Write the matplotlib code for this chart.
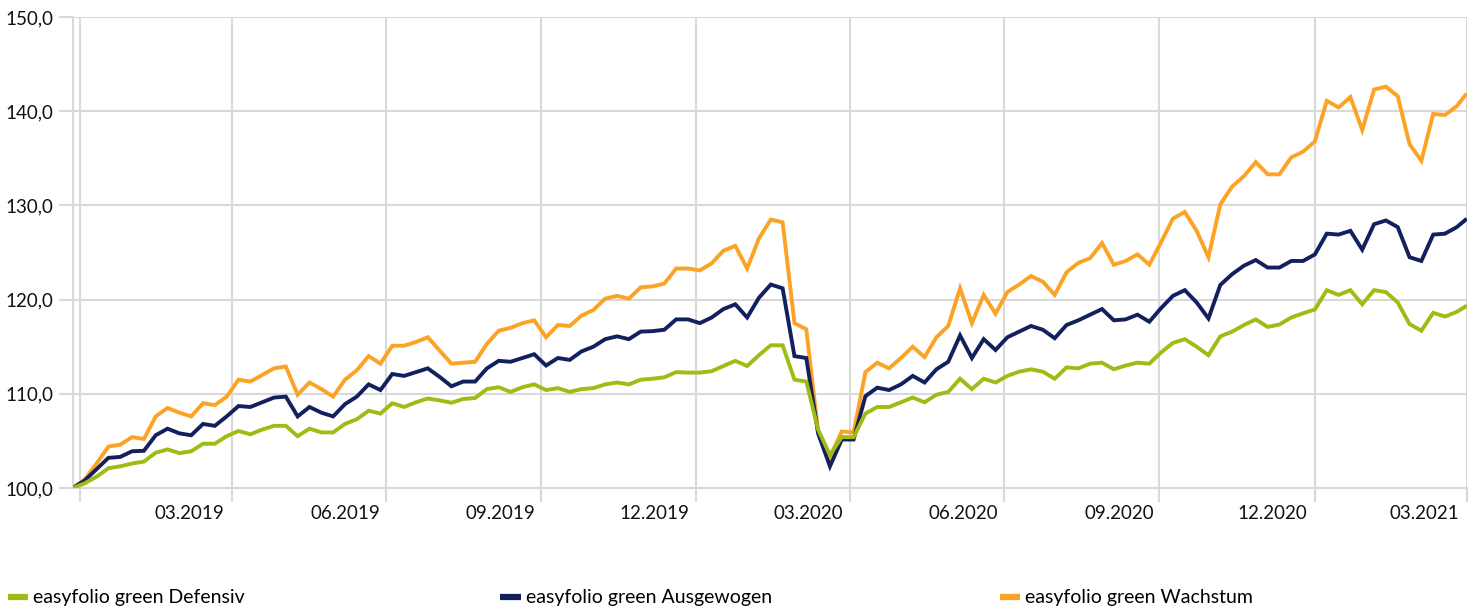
import matplotlib
matplotlib.use("Agg")
import matplotlib.pyplot as plt
import matplotlib.dates as mdates
from matplotlib.ticker import FuncFormatter
import numpy as np

plt.rcParams['font.family'] = ['Lato', 'DejaVu Sans']

# weekly values (Fridays from 28.12.2018) + last value at month end 31.03.2021
dates = list(np.arange(np.datetime64('2018-12-28'), np.datetime64('2021-03-27'), np.timedelta64(7, 'D')))
dates.append(np.datetime64('2021-03-31'))
dates = np.array(dates, dtype='datetime64[D]')

defensiv = [
    100.0, 100.5, 101.2, 102.1, 102.3, 102.6, 102.8, 103.75, 104.1, 103.7,
    103.9, 104.7, 104.7, 105.5, 106.05, 105.7, 106.2, 106.6, 106.6, 105.5,
    106.3, 105.9, 105.9, 106.8, 107.3, 108.2, 107.9, 109.0, 108.6, 109.1,
    109.5, 109.3, 109.05, 109.45, 109.55, 110.5, 110.7, 110.2, 110.7, 111.0,
    110.4, 110.6, 110.2, 110.5, 110.6, 111.0, 111.2, 111.0, 111.5, 111.6,
    111.75, 112.3, 112.25, 112.25, 112.4, 112.95, 113.5, 112.95, 114.1, 115.15,
    115.15, 111.5, 111.3, 106.2, 103.5, 105.4, 105.4, 107.9, 108.6, 108.6,
    109.1, 109.6, 109.1, 109.9, 110.2, 111.6, 110.5, 111.6, 111.2, 111.9,
    112.35, 112.6, 112.35, 111.6, 112.8, 112.7, 113.2, 113.3, 112.6, 113.0,
    113.3, 113.2, 114.4, 115.4, 115.8, 115.0, 114.1, 116.1, 116.6, 117.3,
    117.9, 117.1, 117.35, 118.1, 118.55, 118.95, 121.0, 120.5, 121.0, 119.5,
    121.0, 120.8, 119.7, 117.4, 116.7, 118.6, 118.2, 118.7, 119.25,
]
ausgewogen = [
    100.0, 100.8, 102.0, 103.2, 103.3, 103.9, 103.95, 105.6, 106.3, 105.8,
    105.6, 106.8, 106.6, 107.6, 108.7, 108.6, 109.1, 109.6, 109.7, 107.6,
    108.6, 108.0, 107.6, 108.9, 109.7, 111.0, 110.4, 112.1, 111.9, 112.3,
    112.7, 111.8, 110.8, 111.3, 111.3, 112.7, 113.5, 113.4, 113.8, 114.2,
    113.0, 113.8, 113.6, 114.5, 115.0, 115.8, 116.1, 115.8, 116.6, 116.65,
    116.8, 117.9, 117.9, 117.5, 118.1, 119.0, 119.5, 118.1, 120.2, 121.6,
    121.2, 114.0, 113.8, 105.8, 102.3, 105.15, 105.15, 109.75, 110.65, 110.4,
    111.0, 111.9, 111.2, 112.6, 113.4, 116.2, 113.8, 115.8, 114.65, 116.0,
    116.6, 117.2, 116.8, 115.9, 117.3, 117.8, 118.4, 119.0, 117.8, 117.9,
    118.4, 117.65, 119.1, 120.4, 121.0, 119.7, 118.0, 121.55, 122.7, 123.6,
    124.2, 123.4, 123.4, 124.1, 124.1, 124.8, 127.0, 126.9, 127.3, 125.3,
    128.0, 128.4, 127.7, 124.5, 124.1, 126.9, 127.0, 127.7, 128.45,
]
wachstum = [
    100.0, 100.9, 102.6, 104.4, 104.6, 105.4, 105.2, 107.6, 108.5, 108.0,
    107.6, 109.0, 108.8, 109.7, 111.5, 111.3, 112.0, 112.7, 112.9, 109.9,
    111.2, 110.5, 109.7, 111.5, 112.5, 114.0, 113.2, 115.1, 115.1, 115.5,
    116.0, 114.6, 113.2, 113.3, 113.4, 115.3, 116.7, 117.0, 117.5, 117.8,
    116.0, 117.3, 117.2, 118.3, 118.9, 120.1, 120.4, 120.1, 121.3, 121.4,
    121.7, 123.3, 123.3, 123.1, 123.85, 125.2, 125.7, 123.3, 126.5, 128.5,
    128.2, 117.5, 116.85, 106.0, 103.3, 106.0, 105.9, 112.3, 113.3, 112.7,
    113.8, 115.0, 113.9, 116.0, 117.2, 121.2, 117.5, 120.5, 118.5, 120.8,
    121.6, 122.5, 121.9, 120.5, 122.9, 123.9, 124.4, 126.0, 123.7, 124.1,
    124.8, 123.7, 126.1, 128.6, 129.3, 127.3, 124.5, 130.1, 132.0, 133.1,
    134.6, 133.3, 133.3, 135.1, 135.7, 136.8, 141.1, 140.4, 141.5, 138.0,
    142.3, 142.6, 141.6, 136.5, 134.75, 139.7, 139.6, 140.55, 141.7,
]

labels = ['easyfolio green Defensiv', 'easyfolio green Ausgewogen', 'easyfolio green Wachstum']
colors = ['#9dbd15', '#13205e', '#fca326']

fig = plt.figure(figsize=(14.76, 6.11), dpi=100)
ax = fig.add_axes([0.0494, 0.2013, 0.9445, 0.7709])

lines = []
for vals, lab, col, z in zip([defensiv, ausgewogen, wachstum], labels, colors, [5, 4, 3]):
    l, = ax.plot(dates, vals, color=col, lw=2.8, label=lab, zorder=z, solid_joinstyle='miter')
    lines.append(l)

grid_col = '#d9d9d9'
ax.set_ylim(100, 150)
ax.set_yticks(np.arange(100, 151, 10))
ax.yaxis.set_major_formatter(FuncFormatter(lambda v, p: f"{v:.1f}".replace('.', ',')))
ax.set_xlim(np.datetime64('2018-12-28'), np.datetime64('2021-04-01'))

ax.xaxis.set_major_locator(mdates.MonthLocator(bymonth=[1, 4, 7, 10], bymonthday=1))
ax.xaxis.set_major_formatter(plt.NullFormatter())
ax.xaxis.set_minor_locator(mdates.MonthLocator(bymonth=[3, 6, 9, 12], bymonthday=7))
ax.xaxis.set_minor_formatter(mdates.DateFormatter('%m.%Y'))

ax.grid(True, which='major', color=grid_col, lw=1.5)
ax.set_axisbelow(True)
ax.tick_params(axis='x', which='major', length=10, width=1.5, color=grid_col)
ax.tick_params(axis='x', which='minor', length=0, pad=12, labelsize=13.5, labelcolor='#111111')
ax.tick_params(axis='y', length=10, width=1.5, color=grid_col, pad=4, labelsize=13.5, labelcolor='#111111')

for s in ['top', 'right']:
    ax.spines[s].set_visible(False)
for s in ['left', 'bottom']:
    ax.spines[s].set_color(grid_col)
    ax.spines[s].set_linewidth(1.5)

for l, x in zip(lines, [0.0054, 0.339, 0.6775]):
    leg = fig.legend(handles=[l], loc='center left', bbox_to_anchor=(x, 1 - 598 / 611),
                     frameon=False, borderpad=0, borderaxespad=0, handlelength=1.05,
                     handletextpad=0.25, fontsize=14)
    leg.legend_handles[0].set_linewidth(4.5)
    leg.legend_handles[0].set_solid_capstyle('butt')

fig.savefig('out.png', dpi=100)
